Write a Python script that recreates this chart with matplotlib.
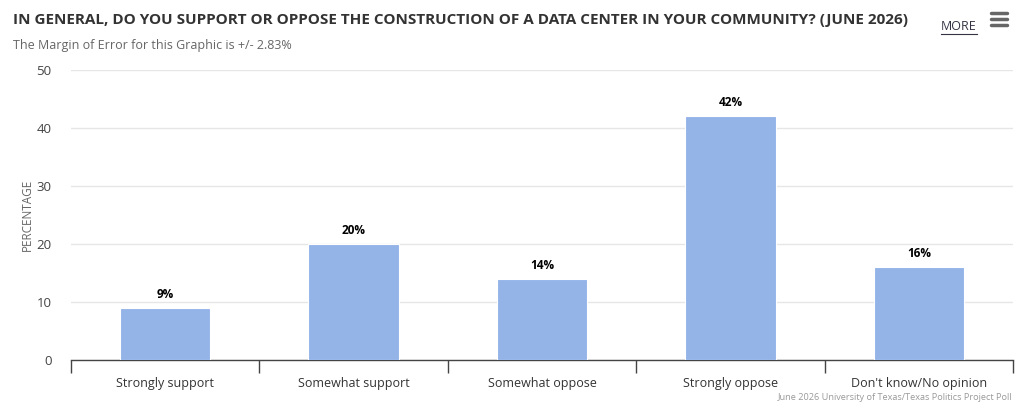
import matplotlib
matplotlib.use("Agg")
import matplotlib.pyplot as plt
import numpy as np

plt.rcParams['font.family'] = ['Open Sans', 'DejaVu Sans']

categories = ["Strongly support", "Somewhat support", "Somewhat oppose",
              "Strongly oppose", "Don't know/No opinion"]
values = [9, 20, 14, 42, 16]
title = "IN GENERAL, DO YOU SUPPORT OR OPPOSE THE CONSTRUCTION OF A DATA CENTER IN YOUR COMMUNITY? (JUNE 2026)"
subtitle = "The Margin of Error for this Graphic is +/- 2.83%"
credits = "June 2026 University of Texas/Texas Politics Project Poll"

W, H = 1024, 417
fig = plt.figure(figsize=(W / 100, H / 100), dpi=100)
ax = fig.add_axes([71 / W, 1 - 360 / H, (1013 - 71) / W, (360 - 70) / H])

x = np.arange(len(categories))
bars = ax.bar(x, values, width=0.48, color="#94b4e8", edgecolor="white",
              linewidth=0.8, zorder=3)
for xi, v in zip(x, values):
    ax.annotate("{}%".format(v), (xi, v), xytext=(0, 5), textcoords="offset points",
                ha="center", va="bottom", fontsize=8.5, fontweight="bold", color="black")

ax.set_xlim(-0.5, len(categories) - 0.5)
ax.set_ylim(0, 50)
ax.set_yticks([0, 10, 20, 30, 40, 50])
ax.yaxis.grid(True, color="#e6e6e6", linewidth=1, zorder=0)
ax.tick_params(axis="y", length=0, labelsize=9.5, labelcolor="#444444", pad=14)
ax.set_ylabel("PERCENTAGE", fontsize=8.5, color="#666666", labelpad=2)

ax.set_xticks(x)
ax.set_xticklabels(categories)
ax.set_xticks(np.arange(len(categories) + 1) - 0.5, minor=True)
ax.tick_params(axis="x", which="major", length=0, labelsize=9, labelcolor="#333333", pad=12)
ax.tick_params(axis="x", which="minor", length=9, width=1, color="#444444")

for s in ["top", "right", "left"]:
    ax.spines[s].set_visible(False)
ax.spines["bottom"].set_color("#444444")
ax.spines["bottom"].set_linewidth(1)

fig.text(13 / W, 1 - 20 / H, title, fontsize=11, fontweight="bold", color="#333333",
         ha="left", va="center")
fig.text(13 / W, 1 - 46 / H, subtitle, fontsize=9, color="#666666", ha="left", va="center")
fig.text(1012 / W, 1 - 398 / H, credits, fontsize=6.6, color="#999999", ha="right", va="center")

# MORE link and menu icon
fig.text(959 / W, 1 - 27 / H, "MORE", fontsize=9, color="#333344", ha="center",
         va="center")
fig.add_artist(plt.Line2D([941 / W, 977 / W], [1 - 34 / H, 1 - 34 / H], color="#333344",
                          linewidth=0.8))
for yy in [13, 19, 25]:
    fig.add_artist(plt.Line2D([991 / W, 1007 / W], [1 - yy / H, 1 - yy / H],
                              color="#666666", linewidth=2.5, solid_capstyle="round"))

fig.savefig("out.png", dpi=100)
